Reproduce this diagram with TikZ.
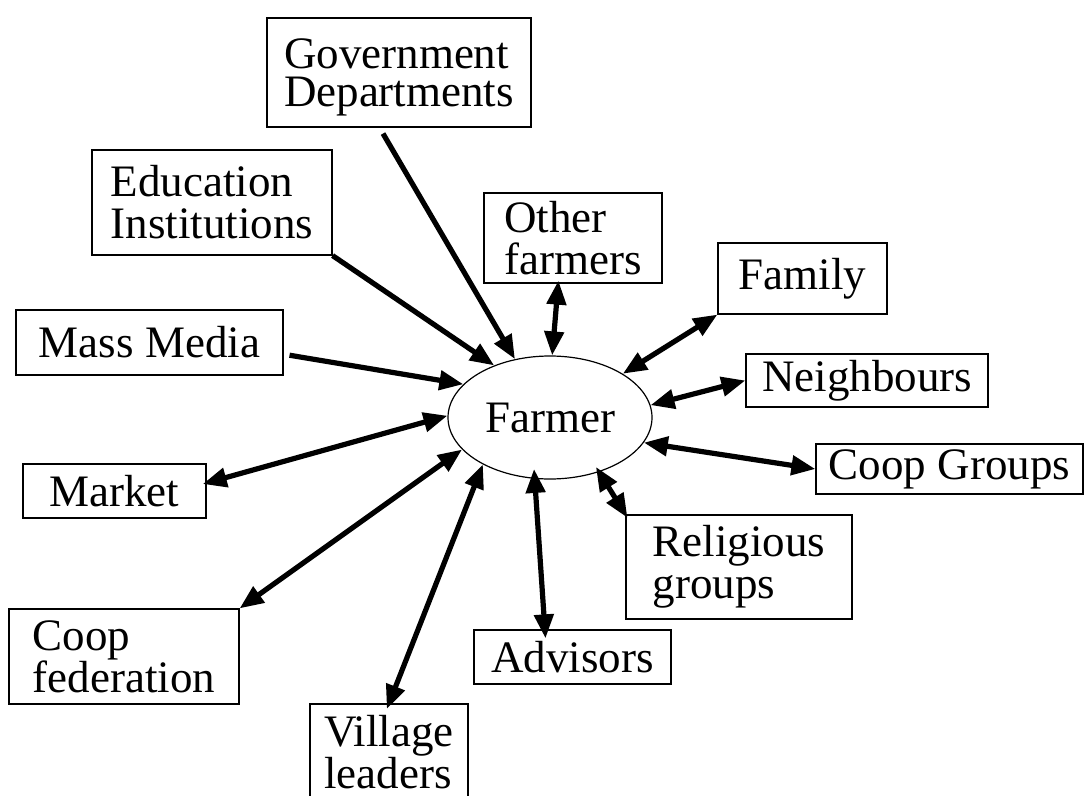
\documentclass[tikz,border=0pt]{standalone}
\usepackage{fontspec}
\setmainfont{Liberation Serif}
\usetikzlibrary{arrows.meta,shapes.geometric}
\tikzset{
  linkcard/.style={draw=black, line width=0.6pt, fill=white, inner sep=0pt,
    align=left, font=\fontsize{22.5pt}{21pt}\selectfont},
  linkhub/.style={ellipse, draw=black, line width=0.6pt, inner sep=0pt,
    minimum width=102pt, minimum height=61.5pt,
    font=\fontsize{22.5pt}{21pt}\selectfont},
  linkarrow/.style={-{Triangle[length=12pt,width=9.5pt]}, line width=2.6pt},
  linkboth/.style={{Triangle[length=12pt,width=9.5pt]}-{Triangle[length=12pt,width=9.5pt]},
    line width=2.6pt},
}

\begin{document}
\begin{tikzpicture}[x=0.5pt, y=-0.5pt]
  \useasboundingbox (0,0) rectangle (1085,796);
  \node[linkhub] (farmer) at (550,417.5) {Farmer};
  \node[linkcard, minimum width=132pt, minimum height=54.5pt, text depth=0pt,
    font=\fontsize{22.5pt}{19pt}\selectfont] (gov) at (399,72.5) {Government\\Departments};
  \node[linkcard, minimum width=120pt, minimum height=52.5pt] (edu) at (212,202.5) {Education\\Institutions};
  \node[linkcard, minimum width=89pt, minimum height=45pt] (other) at (573,238) {Other\\farmers};
  \node[linkcard, minimum width=84.5pt, minimum height=35.5pt] (family) at (802.5,278.5) {Family};
  \node[linkcard, minimum width=121pt, minimum height=26.5pt] (neigh) at (867,380.5) {Neighbours};
  \node[linkcard, minimum width=133.5pt, minimum height=25pt] (coopgr) at (949.5,469) {Coop Groups};
  \node[linkcard, minimum width=113pt, minimum height=52pt] (relig) at (739,567) {Religious\\groups};
  \node[linkcard, minimum width=98.5pt, minimum height=27pt] (advis) at (572.5,657) {Advisors};
  \node[linkcard, minimum width=79pt, minimum height=48pt] (village) at (389,752) {Village\\leaders};
  \node[linkcard, minimum width=115pt, minimum height=47.5pt] (coopfed) at (124,656.5) {Coop\\federation};
  \node[linkcard, minimum width=91.5pt, minimum height=27pt] (market) at (114.5,491) {Market};
  \node[linkcard, minimum width=133.5pt, minimum height=32.5pt] (mass) at (149.5,342.5) {Mass Media};

  \draw[linkarrow] ([xshift=-8pt,yshift=-3pt]gov.south) -- (farmer.121);
  \draw[linkarrow] (edu.south east) -- (farmer.137);
  \draw[linkarrow, shorten <=3pt] (mass.-5) -- (farmer.159);
  \draw[linkboth, shorten >=-2pt] (farmer.179) -- (market.5);
  \draw[linkboth] (farmer.200) -- (coopfed.north east);
  \draw[linkboth, shorten >=-3pt] (farmer.215) -- (village.north);
  \draw[linkboth, shorten <=-5pt, shorten >=-4.5pt] (farmer.256) -- (advis.135);
  \draw[linkboth, shorten <=-3pt, shorten >=-2pt] (farmer.-48) -- (relig.north west);
  \draw[linkboth] (farmer.-15) -- (coopgr.west);
  \draw[linkboth] (farmer.7) -- (neigh.west);
  \draw[linkboth] (farmer.31) -- (family.south west);
  \draw[linkboth, shorten >=-1.5pt] (farmer.88) -- (other.-108);
\end{tikzpicture}
\end{document}
